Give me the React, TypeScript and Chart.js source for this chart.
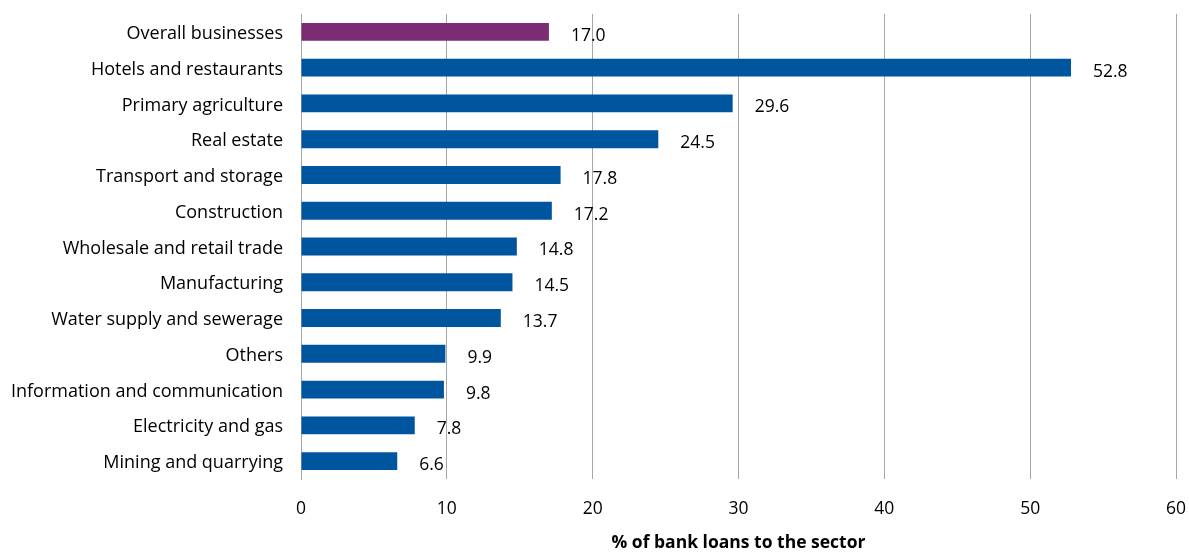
import React, { useEffect, useRef } from "react";
import { Chart, registerables } from "chart.js";

Chart.register(...registerables);

const categories = [
  "Overall businesses",
  "Hotels and restaurants",
  "Primary agriculture",
  "Real estate",
  "Transport and storage",
  "Construction",
  "Wholesale and retail trade",
  "Manufacturing",
  "Water supply and sewerage",
  "Others",
  "Information and communication",
  "Electricity and gas",
  "Mining and quarrying",
];
const values = [17.0, 52.8, 29.6, 24.5, 17.8, 17.2, 14.8, 14.5, 13.7, 9.9, 9.8, 7.8, 6.6];
const barColors = ["#7B2C73", ...Array(12).fill("#00559F")];
const xTicks = [0, 10, 20, 30, 40, 50, 60];
const xTitle = "% of bank loans to the sector";

const FONT = "'Open Sans', sans-serif";
const FS = 17.5;

const labelPlugin = {
  id: "valueLabels",
  afterDatasetsDraw(chart: any) {
    const ctx = chart.ctx;
    const meta = chart.getDatasetMeta(0);
    ctx.save();
    ctx.font = `${FS}px ${FONT}`;
    ctx.fillStyle = "#000";
    ctx.textAlign = "left";
    ctx.textBaseline = "middle";
    meta.data.forEach((bar: any, i: number) => {
      ctx.fillText(values[i].toFixed(1), bar.x + 22, bar.y + 4);
    });
    ctx.restore();
  },
};

export default function App() {
  const ref = useRef<HTMLCanvasElement>(null);
  useEffect(() => {
    document.body.style.margin = "0";
    const chart = new Chart(ref.current!, {
      type: "bar",
      data: {
        labels: categories,
        datasets: [
          {
            data: values,
            backgroundColor: barColors,
            barPercentage: 0.5,
            categoryPercentage: 1,
          },
        ],
      },
      plugins: [labelPlugin],
      options: {
        indexAxis: "y",
        animation: false,
        responsive: false,
        layout: { padding: { top: 14, right: 0, left: 0, bottom: 0 } },
        plugins: { legend: { display: false }, tooltip: { enabled: false } },
        scales: {
          x: {
            min: 0,
            max: 60,
            afterBuildTicks: (scale: any) => {
              scale.ticks = xTicks.map((v) => ({ value: v }));
            },
            afterFit: (scale: any) => {
              scale.height = 75;
              scale.paddingRight = 13;
              scale.paddingLeft = 0;
            },
            grid: { color: "#A6A6A6", drawTicks: false, lineWidth: 1 },
            border: { display: false },
            ticks: { color: "#000", font: { family: FONT, size: FS }, padding: 20 },
            title: {
              display: true,
              text: xTitle,
              color: "#000",
              font: { family: FONT, size: FS, weight: "bold" },
              padding: { top: 0, bottom: 0 },
            },
          },
          y: {
            afterFit: (scale: any) => {
              scale.width = 301;
              scale.paddingTop = 0;
              scale.paddingBottom = 0;
            },
            grid: { display: false, drawTicks: false },
            border: { display: true, color: "#A6A6A6" },
            ticks: { color: "#000", font: { family: FONT, size: 18 }, padding: 18, labelOffset: 2 },
          },
        },
      },
    });
    return () => chart.destroy();
  }, []);
  return <canvas ref={ref} width={1189} height={554} style={{ display: "block" }} />;
}
